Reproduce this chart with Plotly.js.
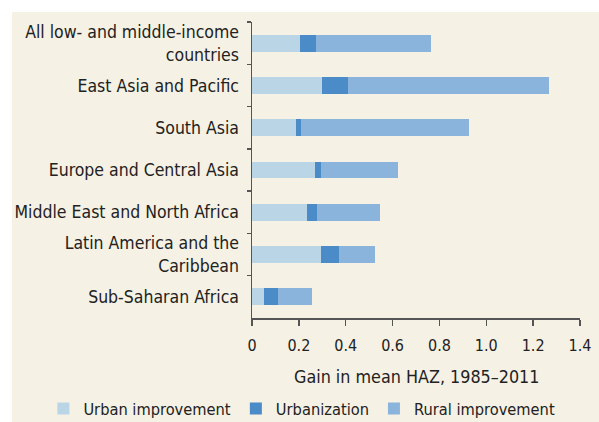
<!DOCTYPE html>
<html>
<head>
<meta charset="utf-8">
<script src="https://cdn.plot.ly/plotly-3.0.1.min.js"></script>
<style>
  html, body { margin: 0; padding: 0; background: #ffffff; }
  #chart { position: absolute; left: 12px; top: 12px; width: 587px; height: 410px; }
</style>
</head>
<body>
<div id="chart"></div>
<script>
const categories = [
  "All low- and middle-income<br>countries",
  "East Asia and Pacific",
  "South Asia",
  "Europe and Central Asia",
  "Middle East and North Africa",
  "Latin America and the<br>Caribbean",
  "Sub-Saharan Africa"
];
const urbanImprovement = [0.205, 0.297, 0.188, 0.267, 0.233, 0.296, 0.052];
const urbanization     = [0.070, 0.112, 0.020, 0.026, 0.043, 0.075, 0.057];
const ruralImprovement = [0.490, 0.857, 0.718, 0.332, 0.271, 0.154, 0.146];
const xTickVals = [0, 0.2, 0.4, 0.6, 0.8, 1.0, 1.2, 1.4];
const xTickText = ["0", "0.2", "0.4", "0.6", "0.8", "1.0", "1.2", "1.4"];
const xTitle = "Gain in mean HAZ, 1985–2011";

const FONT = "'DejaVu Sans Condensed', 'Liberation Sans Narrow', Arial, sans-serif";

const traces = [
  { name: "Urban improvement", x: urbanImprovement, color: "#b9d5e6" },
  { name: "Urbanization", x: urbanization, color: "#4a8bc8" },
  { name: "Rural improvement", x: ruralImprovement, color: "#8bb4dc" }
].map(s => ({
  type: "bar",
  orientation: "h",
  name: s.name,
  x: s.x,
  y: categories,
  marker: { color: s.color, line: { width: 0 } },
  hoverinfo: "x+name"
}));

const layout = {
  width: 587,
  height: 410,
  paper_bgcolor: "#f5f1e4",
  plot_bgcolor: "#f5f1e4",
  barmode: "stack",
  bargap: 0.6,
  margin: { l: 240, r: 19, t: 10, b: 104, autoexpand: false },
  font: { family: FONT, size: 16, color: "#222222" },
  showlegend: true,
  legend: {
    orientation: "h",
    x: -0.636, xanchor: "left",
    y: -0.307, yanchor: "middle",
    font: { family: FONT, size: 16.3, color: "#222222" },
    traceorder: "normal",
    itemwidth: 30,
    bgcolor: "rgba(0,0,0,0)"
  },
  annotations: [{
    text: xTitle,
    xref: "paper", yref: "paper",
    x: 0.5, y: -0.199,
    xanchor: "center", yanchor: "middle",
    showarrow: false,
    font: { family: FONT, size: 17.8, color: "#222222" }
  }],
  xaxis: {
    range: [0, 1.4],
    tickvals: xTickVals,
    ticktext: xTickText,
    showgrid: false,
    zeroline: false,
    showline: true,
    linecolor: "#555555",
    linewidth: 1.5,
    ticks: "outside",
    ticklen: 6,
    tickwidth: 1.5,
    tickcolor: "#555555",
    ticklabelstandoff: 6,
    tickfont: { family: FONT, size: 16, color: "#222222" },
    fixedrange: true
  },
  yaxis: {
    type: "category",
    autorange: false,
    range: [6.5, -0.5],
    showgrid: false,
    zeroline: false,
    showline: true,
    linecolor: "#555555",
    linewidth: 1.5,
    ticks: "outside",
    tickson: "boundaries",
    ticklen: 4,
    tickwidth: 1.5,
    tickcolor: "#555555",
    ticklabelstandoff: 8,
    tickfont: { family: FONT, size: 17.5, color: "#222222" },
    fixedrange: true
  }
};

Plotly.newPlot("chart", traces, layout, { displayModeBar: false, staticPlot: true });
</script>
</body>
</html>
